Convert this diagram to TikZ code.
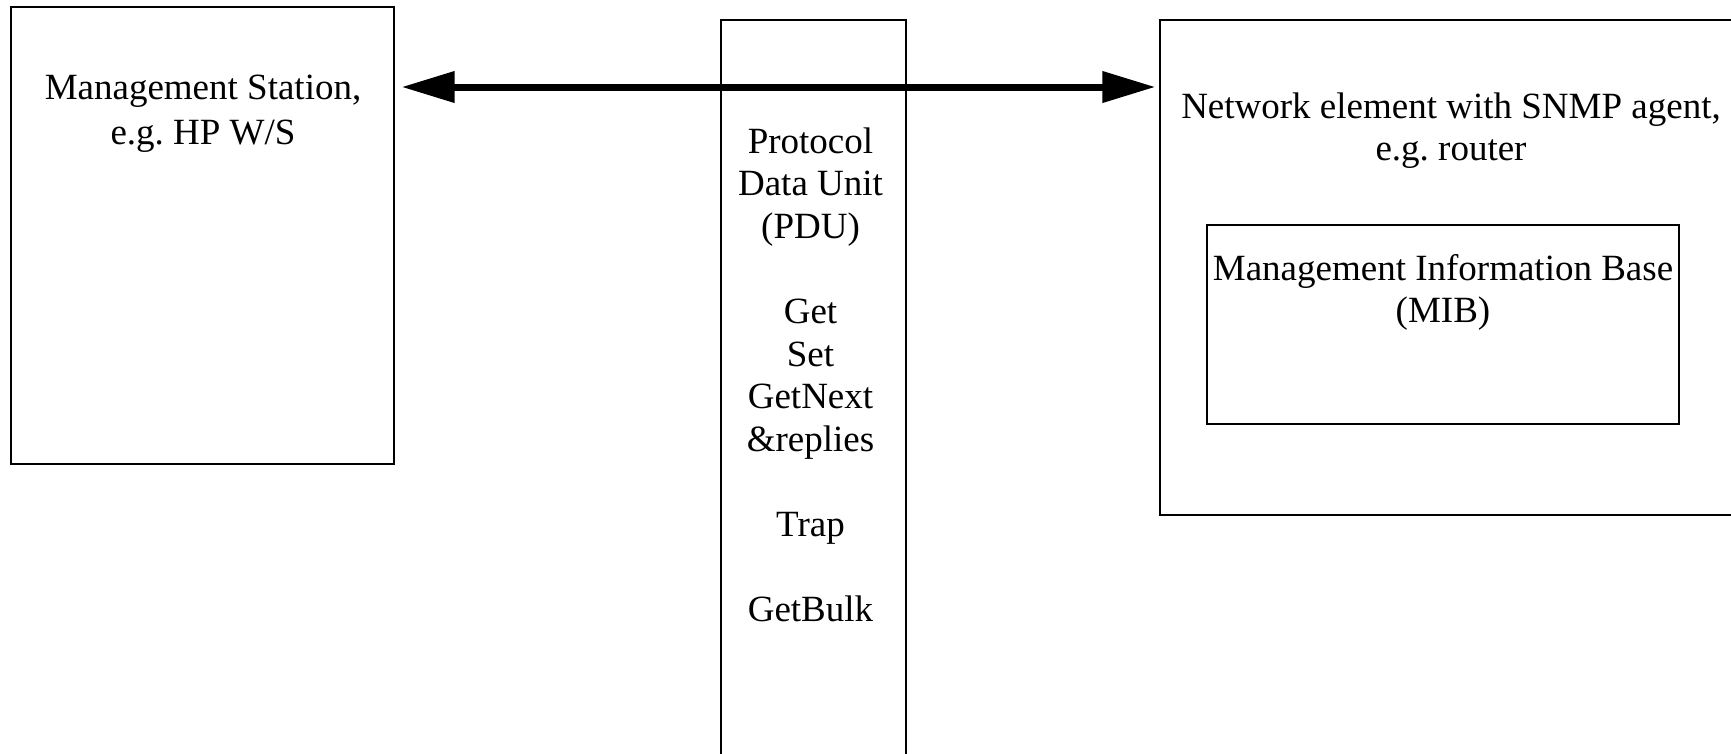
\documentclass[tikz,border=0pt]{standalone}
\usepackage{fontspec}
\setmainfont{Liberation Serif}
\frenchspacing
\usetikzlibrary{arrows.meta,calc}
\tikzset{
  panel/.style={draw, line width=1.2pt, inner sep=0pt},
  caption/.style={inner sep=0pt, align=center, anchor=north,
    font=\fontsize{37}{42.6}\selectfont},
  link/.style={line width=7pt,
    {Triangle[length=53pt,width=30pt]}-{Triangle[length=53pt,width=30pt]}},
}
% fixed-height strut so that each caption's first baseline sits 30pt below its top
\newcommand\capstrut{\rule{0pt}{30pt}}
\begin{document}
\begin{tikzpicture}[x=1pt,y=-1pt]
\useasboundingbox (0,0) rectangle (1731,753);

% management station
\node[panel, minimum width=383pt, minimum height=457pt] (ms) at (202.5,235.5) {};
\node[caption] (mstext) at (203,69) {\capstrut Management Station,\\[3pt]e.g. HP W/S};

% PDU column (runs off the lower edge)
\node[panel, minimum width=185pt, minimum height=760pt] (pdu) at (813.5,400) {};
\node[caption] (pdutext) at (810.5,123) {\capstrut Protocol\\Data Unit\\(PDU)\\[42.6pt]
  Get\\Set\\GetNext\\\&replies\\[42.6pt]Trap\\[42.6pt]GetBulk};

% network element (runs off the right edge)
\node[panel, minimum width=590pt, minimum height=495pt] (ne) at (1455,267.5) {};
\node[caption] (netext) at (1451,88) {\capstrut Network element with SNMP agent,\\e.g. router};

% MIB inside the network element
\node[panel, minimum width=472pt, minimum height=199pt] (mib) at (1443,324.5) {};
\node[caption] (mibtext) at (1443,250) {\capstrut Management Information Base\\(MIB)};

% request / response exchange
\coordinate (lev) at (0,87);
\draw[link] ($(ms.east |- lev)+(7,0)$) -- ($(ne.west |- lev)+(-4,0)$);
\end{tikzpicture}
\end{document}
